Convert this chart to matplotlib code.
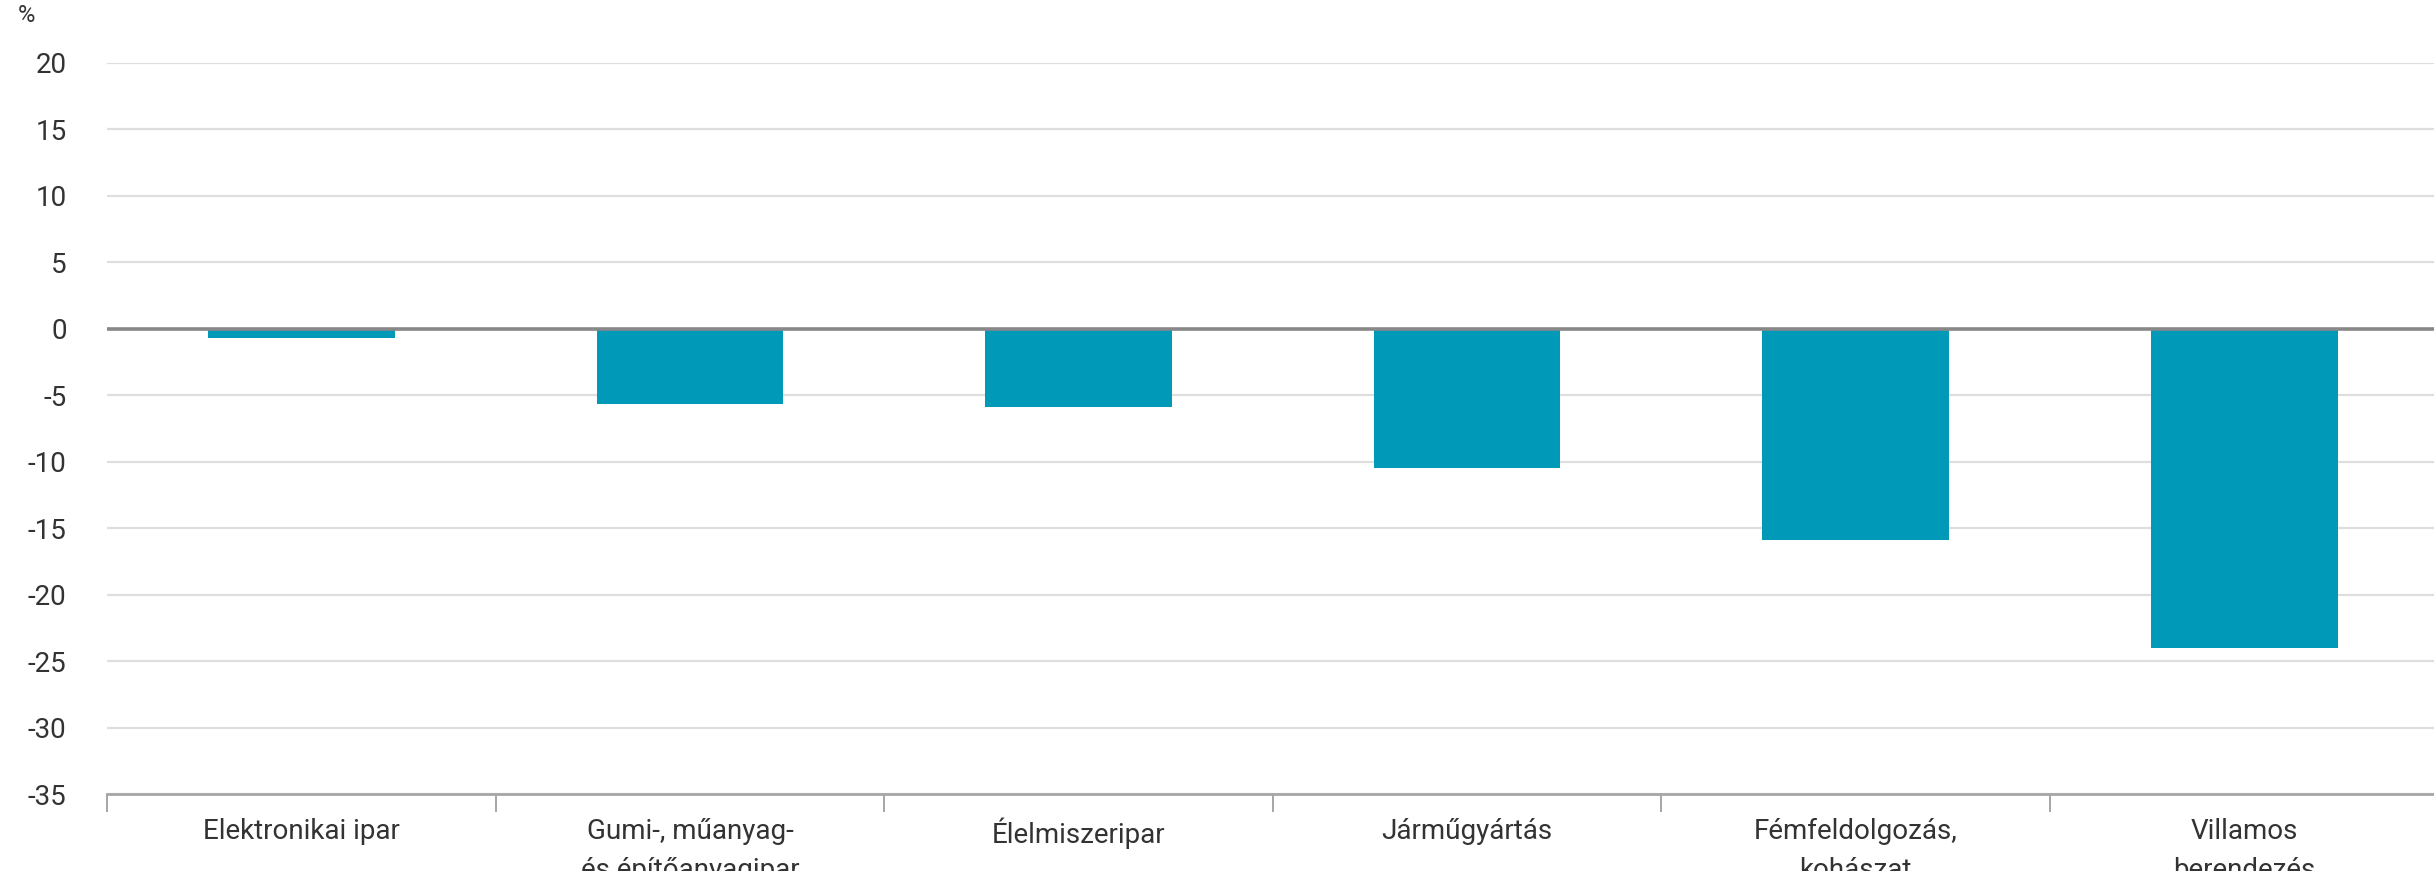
import numpy as np
import matplotlib.pyplot as plt

# Data
categories = [
    "Elektronikai ipar",
    "Gumi-, műanyag-\nés építőanyagipar",
    "Élelmiszeripar",
    "Járműgyártás",
    "Fémfeldolgozás,\nkohászat",
    "Villamos\nberendezés",
]
values = [-0.7, -5.7, -5.9, -10.5, -15.9, -24.0]
y_ticks = [20, 15, 10, 5, 0, -5, -10, -15, -20, -25, -30, -35]

plt.rcParams['font.family'] = ['Roboto', 'DejaVu Sans']

fig = plt.figure(figsize=(24.34, 8.71), dpi=100)
ax = fig.add_axes([107 / 2434, 1 - 794 / 871, (2434 - 107) / 2434 * 1.002, (794 - 62.7) / 871])

x = np.arange(len(categories))
ax.bar(x, values, width=0.48, color='#009ab8', zorder=3)

ax.set_xlim(-0.5, len(categories) - 0.5)
ax.set_ylim(-35, 20)

# grid and zero line
ax.set_yticks(y_ticks)
ax.set_yticklabels([str(t) for t in y_ticks])
ax.yaxis.grid(True, color='#dedede', linewidth=1.6, zorder=0)
ax.axhline(0, color='#888888', linewidth=2.6, zorder=4)

for s in ['top', 'right', 'left']:
    ax.spines[s].set_visible(False)
ax.spines['bottom'].set_color('#a6a6a6')
ax.spines['bottom'].set_linewidth(2.0)

ax.tick_params(axis='y', length=0, pad=29, labelsize=20, labelcolor='#333333')

# category labels at centres, tick marks at boundaries
ax.set_xticks(x)
ax.set_xticklabels(categories, linespacing=1.6)
ax.set_xticks(np.arange(-0.5, len(categories), 1.0), minor=True)
ax.tick_params(axis='x', which='major', length=0, pad=17, labelsize=20, labelcolor='#333333')
ax.tick_params(axis='x', which='minor', length=13, width=1.4, color='#a6a6a6')

fig.text(18 / 2434, 1 - 15 / 871, "%", fontsize=17, color='#333333', va='center', ha='left')

fig.savefig('out.png', dpi=100)
